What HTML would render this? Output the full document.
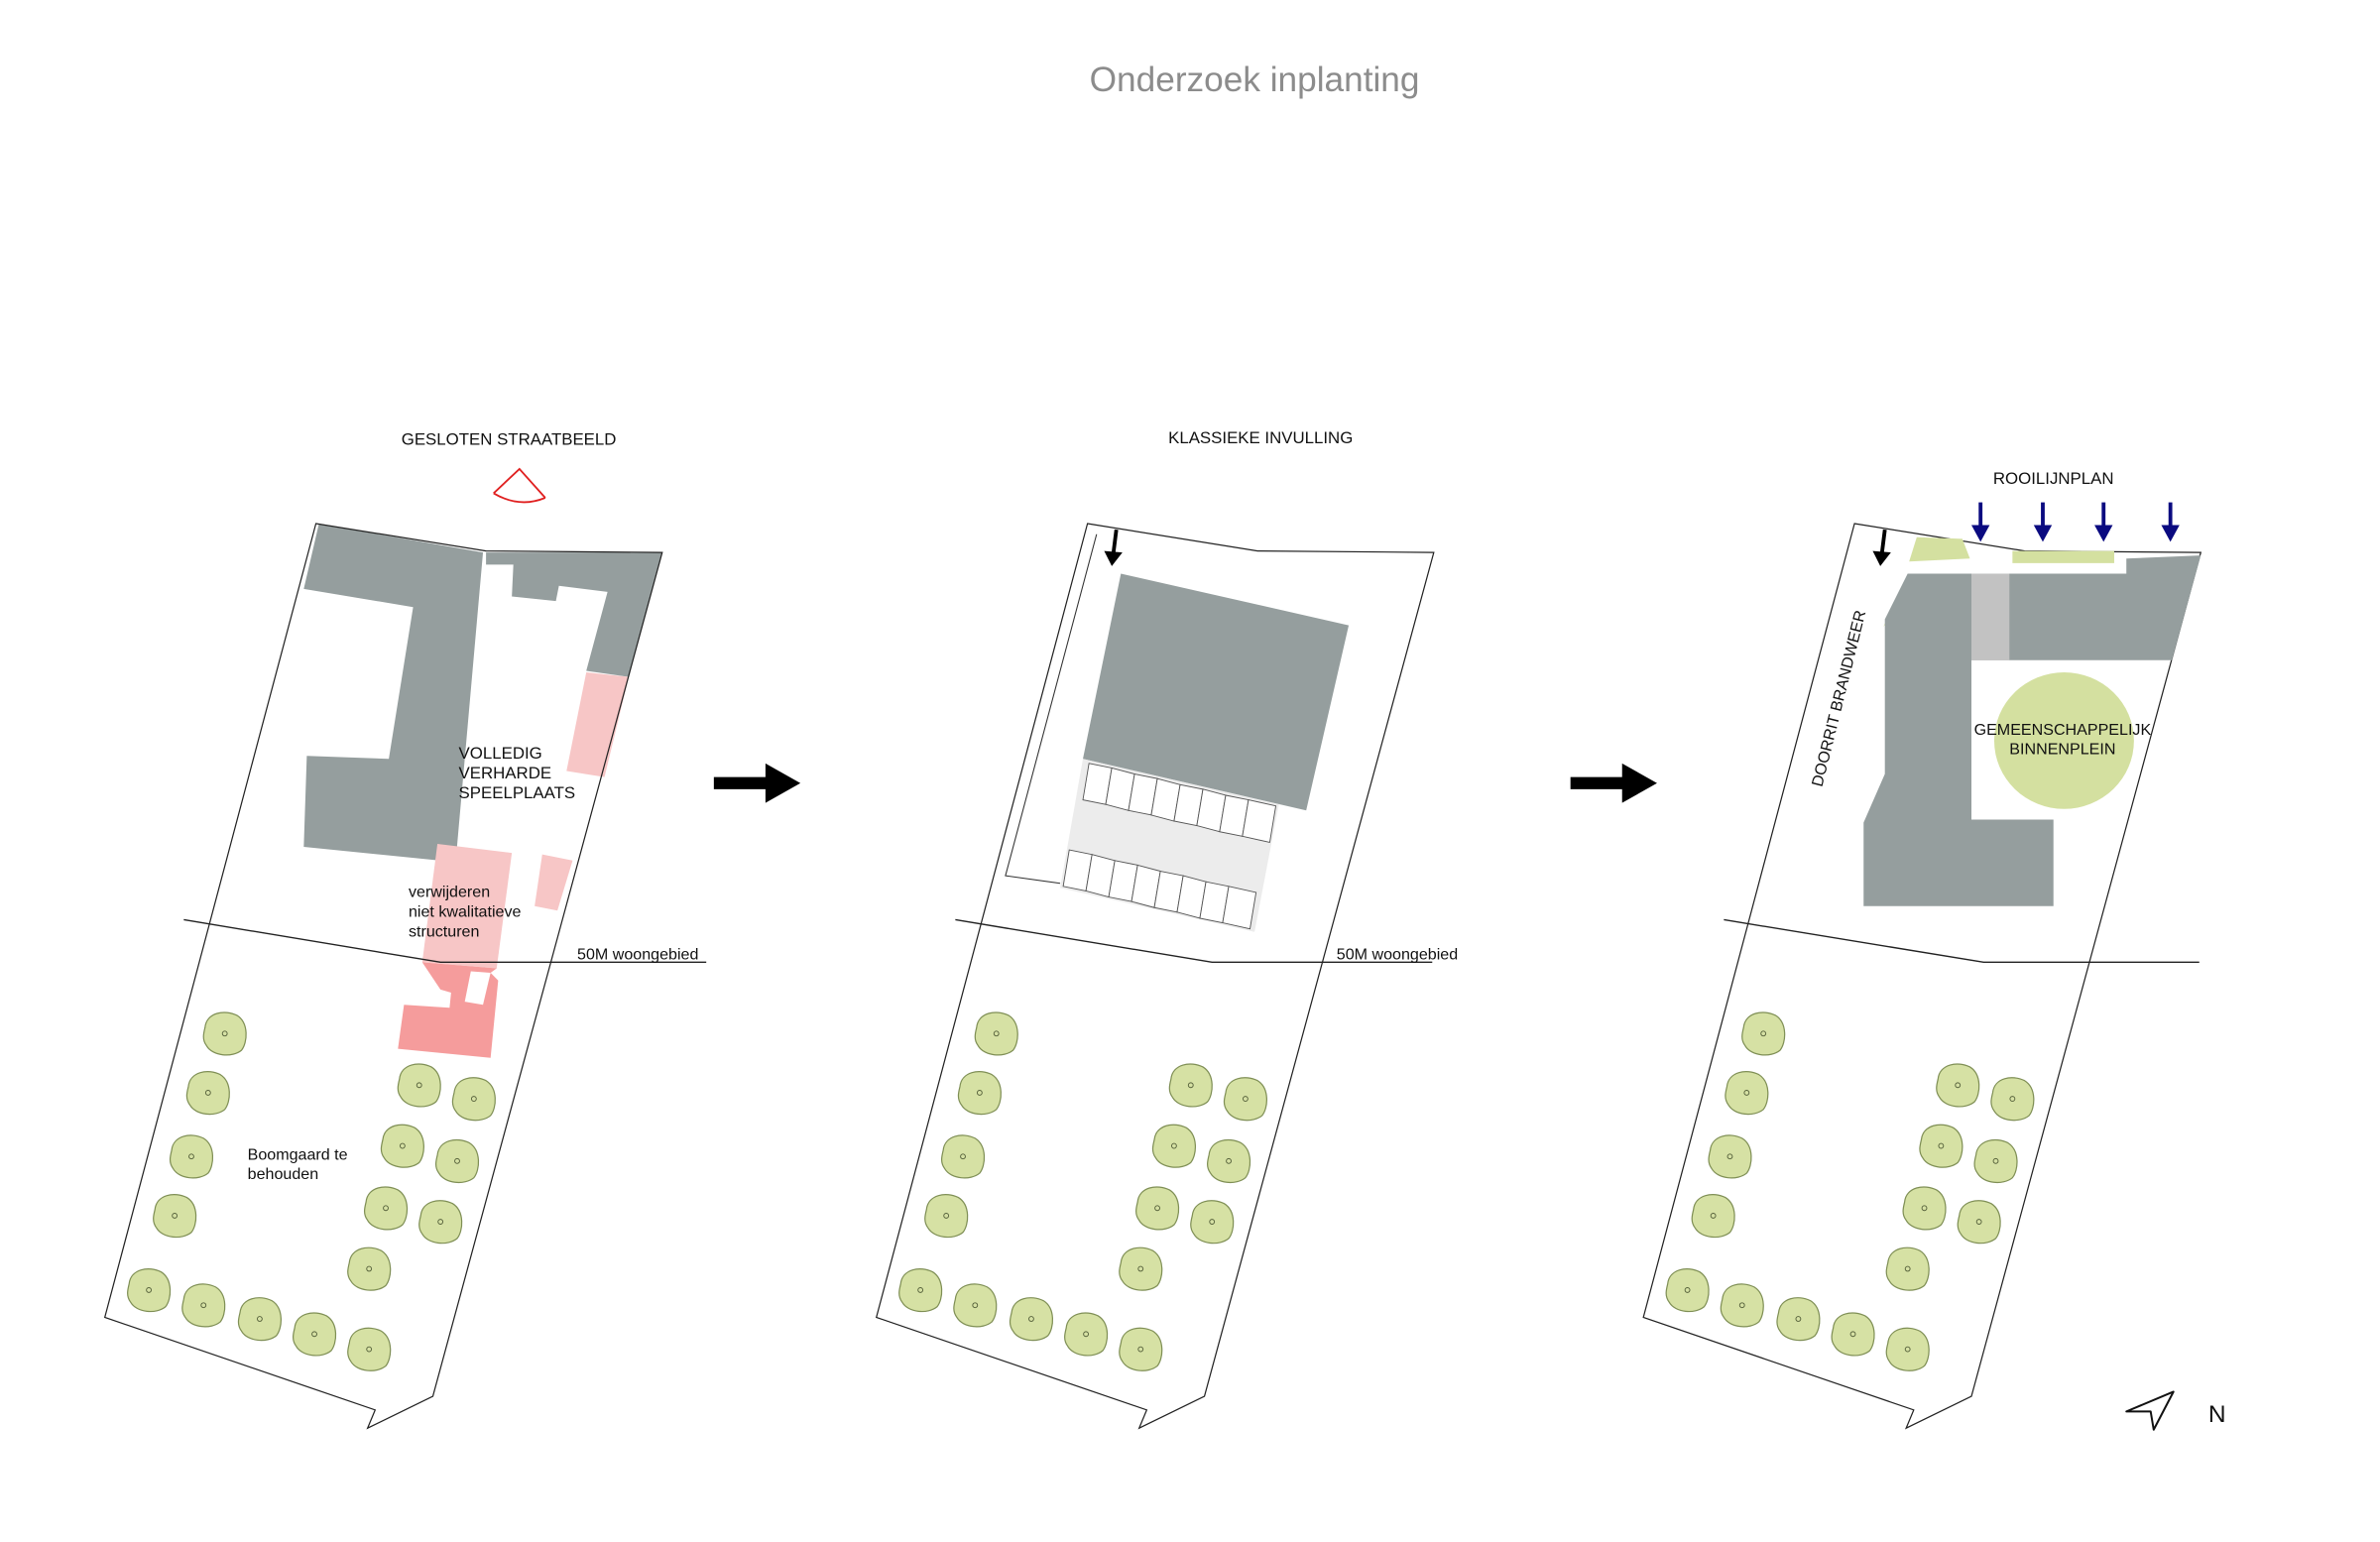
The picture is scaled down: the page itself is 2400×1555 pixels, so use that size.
<!DOCTYPE html>
<html><head><meta charset="utf-8"><style>
html,body{margin:0;padding:0;background:#fff;}
svg{display:block;}
text{font-family:"Liberation Sans",sans-serif;fill:#111;}
</style></head><body>
<svg width="2400" height="1555" viewBox="0 0 1567 1016" preserveAspectRatio="none" xmlns="http://www.w3.org/2000/svg">
<defs>
<g id="tree">
<path d="M-13,-4 C-12,-14 0,-16 8,-12 C16,-7 15,6 11,11 C5,16 -8,15 -12,8 C-15,4 -14,0 -13,-4 Z" fill="#d6e1a4" stroke="#7f8f55" stroke-width="0.8"/>
<circle r="1.6" fill="none" stroke="#55603a" stroke-width="0.6"/>
</g>
<g id="trees">
<use href="#tree" x="148" y="681"/><use href="#tree" x="137" y="720"/><use href="#tree" x="126" y="762"/><use href="#tree" x="115" y="801"/>
<use href="#tree" x="98" y="850"/><use href="#tree" x="134" y="860"/><use href="#tree" x="171" y="869"/><use href="#tree" x="207" y="879"/><use href="#tree" x="243" y="889"/>
<use href="#tree" x="276" y="715"/><use href="#tree" x="312" y="724"/><use href="#tree" x="265" y="755"/><use href="#tree" x="301" y="765"/>
<use href="#tree" x="254" y="796"/><use href="#tree" x="290" y="805"/><use href="#tree" x="243" y="836"/>
</g>
<polygon id="parcel" points="208,345 320,363 436,364 285,920 242,941 247,929 69,868" fill="none" stroke="#222" stroke-width="0.8"/>
<g id="bigarrow"><rect x="0" y="-4" width="36" height="8" fill="#000"/><polygon points="34,-13 57,0 34,13" fill="#000"/></g>
</defs>

<text x="826" y="60" text-anchor="middle" font-size="23" style="fill:#8c8c8c">Onderzoek inplanting</text>

<!-- Panel 1 -->
<text x="335" y="293" text-anchor="middle" font-size="11">GESLOTEN STRAATBEELD</text>
<g fill="none" stroke="#e02020" stroke-width="1.2">
<path d="M325,325 L342,309 L359,328"/><path d="M325,325 Q342,335 359,328"/>
</g>
<polygon points="210,345 318,364 300,568 200,558 202,498 256,500 272,400 200,388" fill="#959e9e"/>
<polygon points="320,364 436,364 414,446 386,442 400,390 368,386 366,396 337,393 338,372 320,372" fill="#959e9e"/>
<polygon points="386,443 414,446 398,512 373,508" fill="#f7c6c6"/>
<polygon points="288,556 337,562 327,638 278,634" fill="#f7c6c6"/>
<polygon points="357,563 377,567 367,600 352,597" fill="#f7c6c6"/>
<polygon points="278,634 327,638 323,641 328,646 323,697 262,691 266,662 296,664 297,654 290,652" fill="#f59c9c"/>
<polygon points="310,640 323,641 318,662 306,660" fill="#fff"/>
<use href="#parcel"/>
<polyline points="121,606 290,634 465,634" fill="none" stroke="#222" stroke-width="0.9"/>
<text font-size="11"><tspan x="302" y="500">VOLLEDIG</tspan><tspan x="302" y="513">VERHARDE</tspan><tspan x="302" y="526">SPEELPLAATS</tspan></text>
<text font-size="10.5"><tspan x="269" y="591">verwijderen</tspan><tspan x="269" y="604">niet kwalitatieve</tspan><tspan x="269" y="617">structuren</tspan></text>
<text x="380" y="632" font-size="10.5">50M woongebied</text>
<text font-size="10.5"><tspan x="163" y="764">Boomgaard te</tspan><tspan x="163" y="777">behouden</tspan></text>
<use href="#trees"/>

<use href="#bigarrow" x="470" y="516"/>

<!-- Panel 2 -->
<g transform="translate(508,0)">
<use href="#parcel"/>
<use href="#trees"/>
<polyline points="121,606 290,634 435,634" fill="none" stroke="#222" stroke-width="0.9"/>
</g>
<text x="830" y="292" text-anchor="middle" font-size="11">KLASSIEKE INVULLING</text>
<polyline points="722,352 662,577 698,582" fill="none" stroke="#333" stroke-width="0.7"/>
<polygon points="738,378 888,412 860,534 713,500" fill="#959e9e"/>
<polygon points="713,500 842,530 826,614 698,585" fill="#ececec"/>
<g fill="#fff" stroke="#555" stroke-width="0.6">
<polygon points="717,503 732,506 728,530 713,527"/><polygon points="732,506 747,510 743,534 728,530"/><polygon points="747,510 762,513 758,537 743,534"/><polygon points="762,513 777,517 773,541 758,537"/><polygon points="777,517 792,520 788,544 773,541"/><polygon points="792,520 807,524 803,548 788,544"/><polygon points="807,524 822,527 818,551 803,548"/><polygon points="822,527 840,531 836,555 818,551"/>
<polygon points="704,560 719,563 715,587 700,584"/><polygon points="719,563 734,567 730,591 715,587"/><polygon points="734,567 749,570 745,594 730,591"/><polygon points="749,570 764,574 760,598 745,594"/><polygon points="764,574 779,577 775,601 760,598"/><polygon points="779,577 794,581 790,605 775,601"/><polygon points="794,581 809,584 805,608 790,605"/><polygon points="809,584 827,588 823,612 805,608"/>
</g>
<path d="M735,349 L733,365" stroke="#000" stroke-width="2.5"/><polygon points="727,363 739,364 732,373" fill="#000"/>
<text x="880" y="632" font-size="10.5">50M woongebied</text>

<use href="#bigarrow" x="1034" y="516"/>

<!-- Panel 3 -->
<g transform="translate(1013,0)">
<use href="#parcel"/>
<use href="#trees"/>
</g>
<polyline points="1135,606 1306,634 1448,634" fill="none" stroke="#222" stroke-width="0.9"/>
<polygon points="1257,370 1297,368 1292,355 1262,354" fill="#d4e0a0"/>
<polygon points="1325,363 1392,363 1392,371 1325,371" fill="#d4e0a0"/>
<polygon points="1240,413 1256,379 1268,379" fill="#d4e0a0"/>
<polygon points="1256,378 1400,378 1400,368 1449,366 1430,435 1298,435 1298,540 1352,540 1352,597 1227,597 1227,542 1241,510 1241,408" fill="#959e9e"/>
<rect x="1298" y="378" width="25" height="57" fill="#c2c2c2"/>
<ellipse cx="1359" cy="488" rx="46" ry="45" fill="#d4e0a0"/>
<text x="1358" y="484" text-anchor="middle" font-size="10.5">GEMEENSCHAPPELIJK</text>
<text x="1358" y="497" text-anchor="middle" font-size="10.5">BINNENPLEIN</text>
<text transform="translate(1214,461) rotate(-76)" text-anchor="middle" font-size="10.5">DOORRIT BRANDWEER</text>
<text x="1352" y="319" text-anchor="middle" font-size="11">ROOILIJNPLAN</text>
<g fill="#0a0a80" stroke="#0a0a80">
<path d="M1304,331 V348" stroke-width="2.5"/><polygon points="1298,346 1310,346 1304,357" stroke="none"/>
<path d="M1345,331 V348" stroke-width="2.5"/><polygon points="1339,346 1351,346 1345,357" stroke="none"/>
<path d="M1385,331 V348" stroke-width="2.5"/><polygon points="1379,346 1391,346 1385,357" stroke="none"/>
<path d="M1429,331 V348" stroke-width="2.5"/><polygon points="1423,346 1435,346 1429,357" stroke="none"/>
</g>
<path d="M1241,349 L1239,365" stroke="#000" stroke-width="2.5"/><polygon points="1233,363 1245,364 1238,373" fill="#000"/>

<!-- North -->
<polygon points="1400,930 1431,917 1418,942 1416,930" fill="none" stroke="#111" stroke-width="1.3" stroke-linejoin="round"/>
<text x="1454" y="937" font-size="16">N</text>
</svg>
</body></html>
